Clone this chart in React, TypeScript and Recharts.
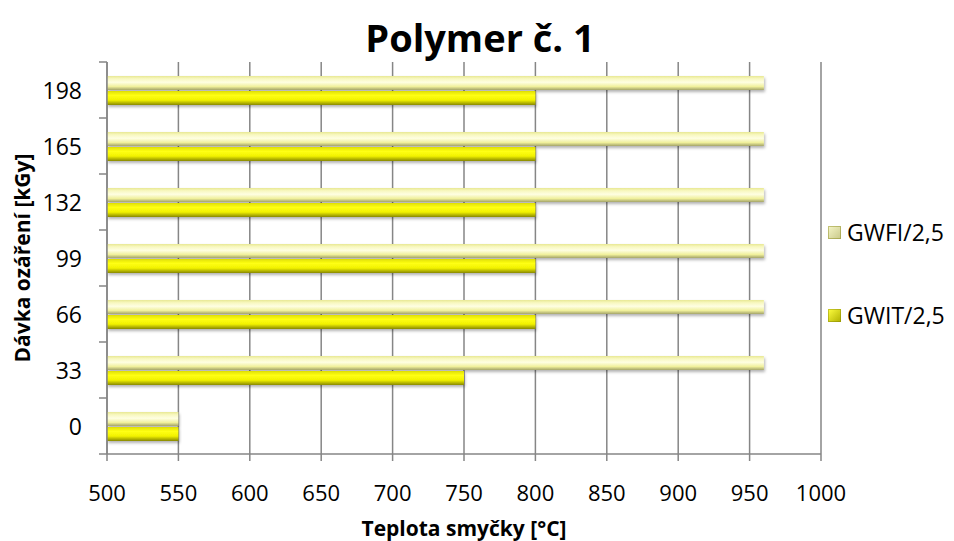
import React from "react";
import { BarChart, Bar, XAxis, YAxis, CartesianGrid } from "recharts";

const categories = ["198", "165", "132", "99", "66", "33", "0"];
const gwfiValues = [960, 960, 960, 960, 960, 960, 550];
const gwitValues = [800, 800, 800, 800, 800, 750, 550];
const xTicks = [500, 550, 600, 650, 700, 750, 800, 850, 900, 950, 1000];
const seriesNames = ["GWFI/2,5", "GWIT/2,5"];

const data = categories.map((c, i) => ({ dose: c, gwfi: gwfiValues[i], gwit: gwitValues[i] }));

const W = 954;
const H = 541;
const M = { top: 62, right: 133, left: 0, bottom: 0 };
const Y_W = 107;
const X_H = 87;
const FONT = "'Open Sans', sans-serif";
const AXIS = "#868686";
const plotH = H - M.top - X_H;
const band = plotH / categories.length;

const YTick = (props: any) => {
  const { x, y, payload } = props;
  return (
    <g>
      <text x={x - 25} y={y} textAnchor="end" dominantBaseline="central" fontSize={23} fill="#000" fontFamily={FONT}>
        {payload.value}
      </text>
      <line x1={x - 8} x2={x} y1={y - band / 2} y2={y - band / 2} stroke={AXIS} strokeWidth={1.5} />
      {payload.index === categories.length - 1 && (
        <line x1={x - 8} x2={x} y1={y + band / 2} y2={y + band / 2} stroke={AXIS} strokeWidth={1.5} />
      )}
    </g>
  );
};

const XTick = (props: any) => {
  const { x, y, payload } = props;
  return (
    <text x={x} y={y + 38} textAnchor="middle" fontSize={22} fill="#000" fontFamily={FONT}>
      {payload.value}
    </text>
  );
};

export default function App() {
  return (
    <div style={{ position: "absolute", left: 0, top: 0, width: W, height: H, background: "#fff" }}>
      <div
        style={{
          position: "absolute",
          left: 0,
          top: 17,
          width: W,
          textAlign: "center",
          fontFamily: FONT,
          fontWeight: 700,
          fontSize: 38,
          lineHeight: "40px",
          paddingLeft: 6,
          boxSizing: "border-box",
        }}
      >
        Polymer č. 1
      </div>
      <BarChart width={W} height={H} data={data} layout="vertical" margin={M} barCategoryGap="25%" barGap={1}>
        <defs>
          <linearGradient id="gFI" x1="0" y1="0" x2="0" y2="1">
            <stop offset="0" stopColor="#e8e894" />
            <stop offset="0.2" stopColor="#f8f8c0" />
            <stop offset="0.45" stopColor="#fefee2" />
            <stop offset="0.75" stopColor="#f0f09c" />
            <stop offset="1" stopColor="#a4a468" />
          </linearGradient>
          <linearGradient id="gIT" x1="0" y1="0" x2="0" y2="1">
            <stop offset="0" stopColor="#dede00" />
            <stop offset="0.3" stopColor="#ffff14" />
            <stop offset="0.65" stopColor="#f2f200" />
            <stop offset="1" stopColor="#888800" />
          </linearGradient>
          <filter id="sh" x="-5%" y="-30%" width="110%" height="180%">
            <feDropShadow dx="1" dy="2" stdDeviation="1.5" floodColor="#000" floodOpacity="0.3" />
          </filter>
        </defs>
        <CartesianGrid horizontal={false} vertical stroke={AXIS} strokeWidth={1.5} />
        <XAxis
          type="number"
          domain={[500, 1000]}
          ticks={xTicks}
          allowDataOverflow
          height={X_H}
          stroke={AXIS}
          strokeWidth={1.5}
          tickSize={7}
          tick={<XTick />}
          label={{
            value: "Teplota smyčky [°C]",
            position: "insideBottom",
            offset: 5,
            style: { fontFamily: FONT, fontWeight: 700, fontSize: 21, fill: "#000" },
          }}
        />
        <YAxis
          type="category"
          dataKey="dose"
          width={Y_W}
          stroke={AXIS}
          strokeWidth={1.5}
          tickLine={false}
          tickSize={0}
          tickMargin={0}
          tick={<YTick />}
          interval={0}
          label={{
            value: "Dávka ozáření [kGy]",
            angle: -90,
            position: "insideLeft",
            offset: 23,
            style: { fontFamily: FONT, fontWeight: 700, fontSize: 21, fill: "#000", textAnchor: "middle" },
          }}
        />
        <Bar dataKey="gwfi" name={seriesNames[0]} fill="url(#gFI)" isAnimationActive={false} filter="url(#sh)" />
        <Bar dataKey="gwit" name={seriesNames[1]} fill="url(#gIT)" isAnimationActive={false} filter="url(#sh)" />
      </BarChart>
      {[
        { name: seriesNames[0], grad: "linear-gradient(135deg,#f6f6c8,#c8c888)", top: 218 },
        { name: seriesNames[1], grad: "linear-gradient(135deg,#ffff40,#b0b000)", top: 301 },
      ].map((l) => (
        <div
          key={l.name}
          style={{
            position: "absolute",
            left: 828,
            top: l.top,
            display: "flex",
            alignItems: "center",
            fontFamily: FONT,
            fontSize: 23,
            lineHeight: "28px",
          }}
        >
          <span style={{ display: "inline-block", width: 13, height: 13, background: l.grad, marginRight: 6, boxShadow: "inset 0 0 0 1px rgba(120,120,0,0.4)" }} />
          {l.name}
        </div>
      ))}
    </div>
  );
}
